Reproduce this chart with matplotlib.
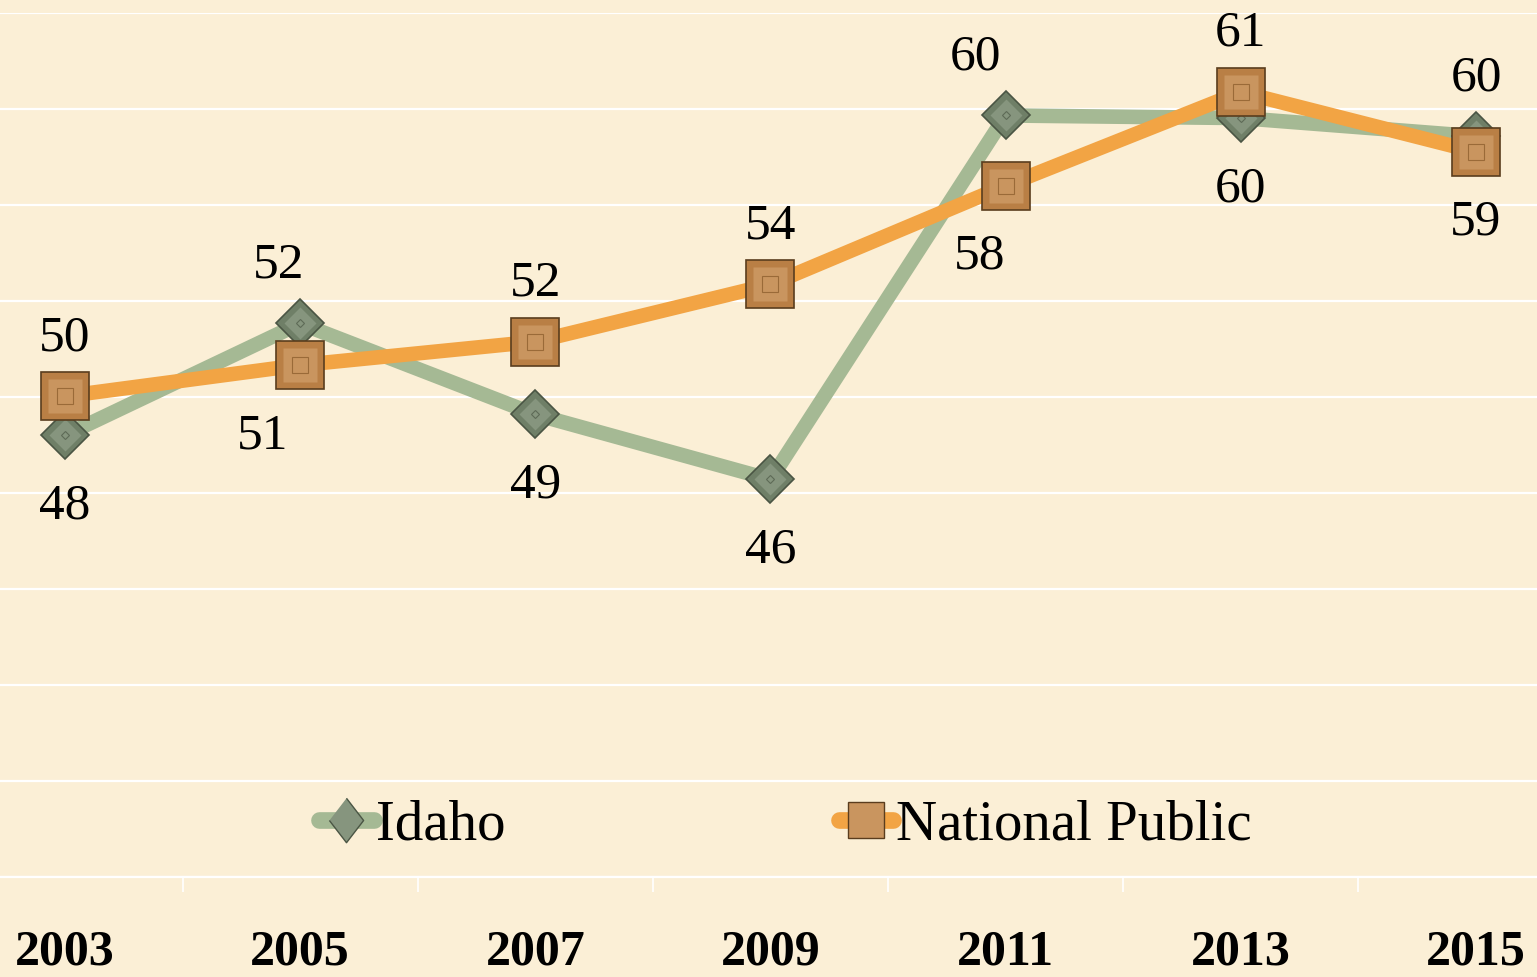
import numpy as np
import matplotlib
matplotlib.use("Agg")
import matplotlib.pyplot as plt
from matplotlib.lines import Line2D

# ---------------- data ----------------
years = ["2003", "2005", "2007", "2009", "2011", "2013", "2015"]
idaho = [48.1, 52.4, 48.9, 46.4, 60.4, 60.3, 59.6]
national = [49.6, 50.8, 51.7, 53.9, 57.7, 61.3, 59.0]
series_names = ["Idaho", "National Public"]

# label placement (style only)
idaho_pos = ["below", "above", "below", "below", "above", "below", "above"]
nat_pos = ["above", "below", "above", "above", "below", "above", "below"]
idaho_dx = [0, -22, 0, 0, -30, 0, 0]
nat_dx = [0, -38, 0, 0, -26, 0, 0]

# ---------------- style ----------------
BG = "#FBEFD6"
GREEN = "#A5B994"
ORANGE = "#F2A444"
SQ_OUT = "#B97F45"
SQ_FACE = "#C9955F"
SQ_EDGE = "#5A3D1E"
DI_OUT = "#6F7F67"
DI_FACE = "#86957E"
DI_EDGE = "#4A5544"
FONT = ["Liberation Serif", "DejaVu Serif"]
plt.rcParams["font.family"] = FONT

W, H = 1537, 977
fig = plt.figure(figsize=(W / 100, H / 100), dpi=100)
fig.patch.set_facecolor(BG)

left_px, right_px = -52.6, 1593.6
top_px, bot_px = 12.5, 877
ax = fig.add_axes([left_px / W, 1 - bot_px / H,
                   (right_px - left_px) / W, (bot_px - top_px) / H])
ax.set_facecolor(BG)

ylo, yhi = 31.11, 64.36
ax.set_xlim(-0.5, 6.5)
ax.set_ylim(ylo, yhi)

x = np.arange(len(years))

# gridlines
ax.set_yticks(np.linspace(ylo, yhi, 10))
ax.yaxis.grid(True, color="white", lw=1.6, zorder=0)
ax.set_axisbelow(True)
ax.tick_params(axis="y", left=False, labelleft=False)
for s in ["left", "right", "top"]:
    ax.spines[s].set_visible(False)
ax.spines["bottom"].set_color("white")
ax.spines["bottom"].set_linewidth(1.6)

# x ticks
ax.set_xticks(x)
ax.set_xticklabels(years)
ax.set_xticks(np.arange(len(years) - 1) + 0.5, minor=True)
ax.tick_params(axis="x", which="major", length=0, pad=38, labelsize=36)
ax.tick_params(axis="x", which="minor", length=11, width=1.2,
               color="white", direction="out")
for lab in ax.get_xticklabels():
    lab.set_fontweight("bold")


def draw_diamonds(xs, ys, z):
    ax.plot(xs, ys, ls="none", marker="D", ms=24.4, mfc=DI_OUT,
            mec=DI_EDGE, mew=1.2, zorder=z)
    ax.plot(xs, ys, ls="none", marker="D", ms=16, mfc=DI_FACE,
            mec="none", zorder=z + 0.1)
    ax.plot(xs, ys, ls="none", marker="D", ms=4.5, mfc="none",
            mec="#5E6B57", mew=0.8, zorder=z + 0.2)


def draw_squares(xs, ys, z):
    ax.plot(xs, ys, ls="none", marker="s", ms=34.5, mfc=SQ_OUT,
            mec=SQ_EDGE, mew=1.2, zorder=z)
    ax.plot(xs, ys, ls="none", marker="s", ms=24, mfc=SQ_FACE,
            mec="none", zorder=z + 0.1)
    ax.plot(xs, ys, ls="none", marker="s", ms=11, mfc="none",
            mec="#9A6A38", mew=0.8, zorder=z + 0.2)


# Idaho
ax.plot(x, idaho, color=GREEN, lw=10.5, solid_joinstyle="round",
        solid_capstyle="round", zorder=3)
draw_diamonds(x, idaho, 4)
# National
ax.plot(x, national, color=ORANGE, lw=10.5, solid_joinstyle="round",
        solid_capstyle="round", zorder=5)
draw_squares(x, national, 6)

# data labels
UP, DOWN = 42.0, -51.0  # points
for xs, vals, pos, dxs in [(x, idaho, idaho_pos, idaho_dx),
                           (x, national, nat_pos, nat_dx)]:
    for xi, v, p, dx in zip(xs, vals, pos, dxs):
        ax.annotate(f"{v:.0f}", (xi, v),
                    xytext=(dx * 0.72, UP if p == "above" else DOWN),
                    textcoords="offset points", ha="center", va="center",
                    fontsize=37, color="black", zorder=10)

# legend
h1 = Line2D([], [], color=GREEN, lw=12, solid_capstyle="round",
            marker=[(0, 1), (0.77, 0), (0, -1), (-0.77, 0)], ms=32,
            mfc=DI_FACE, mec=DI_EDGE, mew=1.0)
h2 = Line2D([], [], color=ORANGE, lw=12, solid_capstyle="round",
            marker="s", ms=26.6, mfc=SQ_FACE, mec=SQ_EDGE, mew=1.0)
leg = fig.legend([h1, h2], series_names, loc="center",
                 bbox_to_anchor=(785.5 / W, 1 - 826 / H), ncol=2,
                 frameon=False, fontsize=41, handlelength=0.95,
                 handletextpad=0.05, columnspacing=5.85, borderpad=0,
                 borderaxespad=0)

fig.savefig("out.png", dpi=100, facecolor=BG)
